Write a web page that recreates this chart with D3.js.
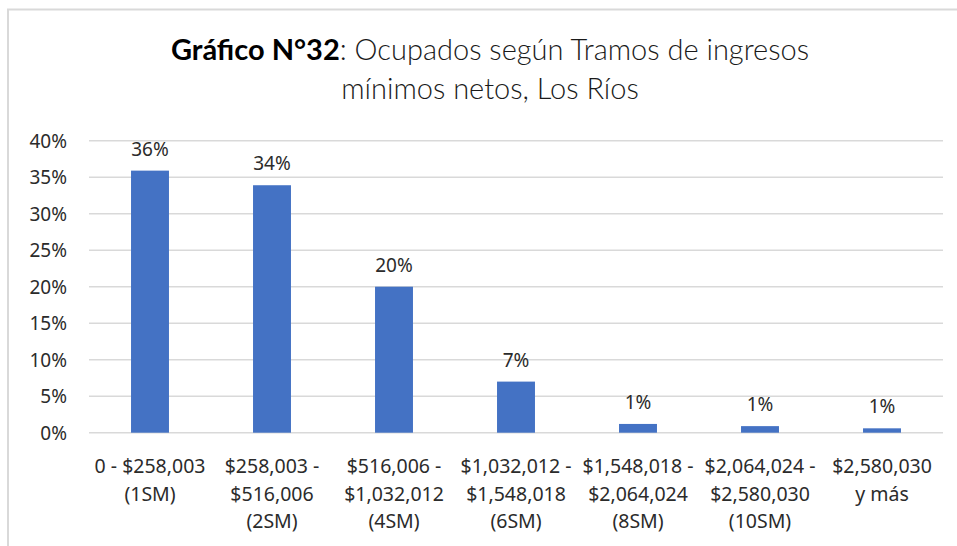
<!DOCTYPE html>
<html>
<head>
<meta charset="utf-8">
<script src="https://cdn.jsdelivr.net/npm/d3@7"></script>
<style>
  html, body { margin: 0; padding: 0; background: #fff; }
  svg { display: block; }
</style>
</head>
<body>
<svg id="chart" width="957" height="546"></svg>
<script>
const categories = [
  ["0 - $258,003", "(1SM)"],
  ["$258,003 -", "$516,006", "(2SM)"],
  ["$516,006 -", "$1,032,012", "(4SM)"],
  ["$1,032,012 -", "$1,548,018", "(6SM)"],
  ["$1,548,018 -", "$2,064,024", "(8SM)"],
  ["$2,064,024 -", "$2,580,030", "(10SM)"],
  ["$2,580,030", "y más"]
];
const values = [0.359, 0.339, 0.200, 0.070, 0.012, 0.009, 0.006];
const yTicks = [0, 0.05, 0.10, 0.15, 0.20, 0.25, 0.30, 0.35, 0.40];
const titleBold = "Gráfico N°32";
const titleRest1 = ": Ocupados según Tramos de ingresos";
const titleLine2 = "mínimos netos, Los Ríos";

const svg = d3.select("#chart");
const W = 957, H = 546;
const plot = { left: 89, right: 943, top: 140.7, bottom: 432.7 };
const textFont = "'Noto Sans', 'Open Sans', sans-serif";
const titleFont = "Lato, 'Open Sans', sans-serif";

// outer frame (left and top edges visible)
svg.append("path")
  .attr("d", `M8,${H} L8,9.5 L${W},9.5`)
  .attr("fill", "none")
  .attr("stroke", "#d9d9d9")
  .attr("stroke-width", 2);

const ids = categories.map((c, i) => i);
const x = d3.scaleBand()
  .domain(ids)
  .range([plot.left, plot.right])
  .paddingInner(0.689)
  .paddingOuter(0.3445);

const y = d3.scaleLinear()
  .domain([0, 0.40])
  .range([plot.bottom, plot.top]);

// gridlines
svg.append("g")
  .selectAll("line")
  .data(yTicks)
  .join("line")
  .attr("x1", plot.left)
  .attr("x2", plot.right)
  .attr("y1", d => y(d))
  .attr("y2", d => y(d))
  .attr("stroke", "#d9d9d9")
  .attr("stroke-width", 1.5);

// y axis labels
const yAxis = d3.axisLeft(y)
  .tickValues(yTicks)
  .tickFormat(d => Math.round(d * 100) + "%")
  .tickSize(0)
  .tickPadding(0);
const yg = svg.append("g")
  .attr("transform", `translate(67,0)`)
  .call(yAxis);
yg.attr("font-family", null).attr("font-size", null);
yg.select(".domain").remove();
yg.selectAll("text")
  .style("font-family", textFont)
  .style("font-size", "19px")
  .attr("fill", "#2b2b2b")
  .attr("dy", "0.35em");

// bars
svg.append("g")
  .selectAll("rect")
  .data(values)
  .join("rect")
  .attr("x", (d, i) => x(i))
  .attr("width", x.bandwidth())
  .attr("y", d => y(d))
  .attr("height", d => y(0) - y(d))
  .attr("fill", "#4472C4");

// data labels
svg.append("g")
  .selectAll("text")
  .data(values)
  .join("text")
  .attr("x", (d, i) => x(i) + x.bandwidth() / 2)
  .attr("y", d => y(d) - 15)
  .attr("text-anchor", "middle")
  .style("font-family", textFont)
  .style("font-size", "19px")
  .attr("fill", "#2b2b2b")
  .text(d => Math.round(d * 100) + "%");

// x axis labels
const xAxis = d3.axisBottom(x).tickSize(0).tickFormat(() => "");
const xg = svg.append("g")
  .attr("transform", `translate(0,${plot.bottom})`)
  .call(xAxis);
xg.attr("font-family", null).attr("font-size", null);
xg.select(".domain").remove();
xg.selectAll(".tick").each(function(d) {
  const t = d3.select(this).select("text")
    .attr("y", 0)
    .attr("dy", null)
    .style("font-family", textFont)
    .style("font-size", "19.5px")
    .attr("fill", "#2b2b2b")
    .attr("text-anchor", "middle");
  categories[d].forEach((line, k) => {
    t.append("tspan")
      .attr("x", 0)
      .attr("y", 40.5 + k * 27.5)
      .text(line);
  });
});

// title
const title = svg.append("text")
  .attr("x", 490)
  .attr("y", 60)
  .attr("text-anchor", "middle")
  .style("font-family", titleFont)
  .style("font-size", "29px")
  .attr("fill", "#000");
title.append("tspan").attr("font-weight", 700).text(titleBold);
title.append("tspan").attr("font-weight", 300).attr("fill", "#1a1a1a").text(titleRest1);

svg.append("text")
  .attr("x", 490)
  .attr("y", 99)
  .attr("text-anchor", "middle")
  .style("font-family", titleFont)
  .style("font-size", "29px")
  .attr("font-weight", 300)
  .attr("fill", "#1a1a1a")
  .text(titleLine2);
</script>
</body>
</html>
